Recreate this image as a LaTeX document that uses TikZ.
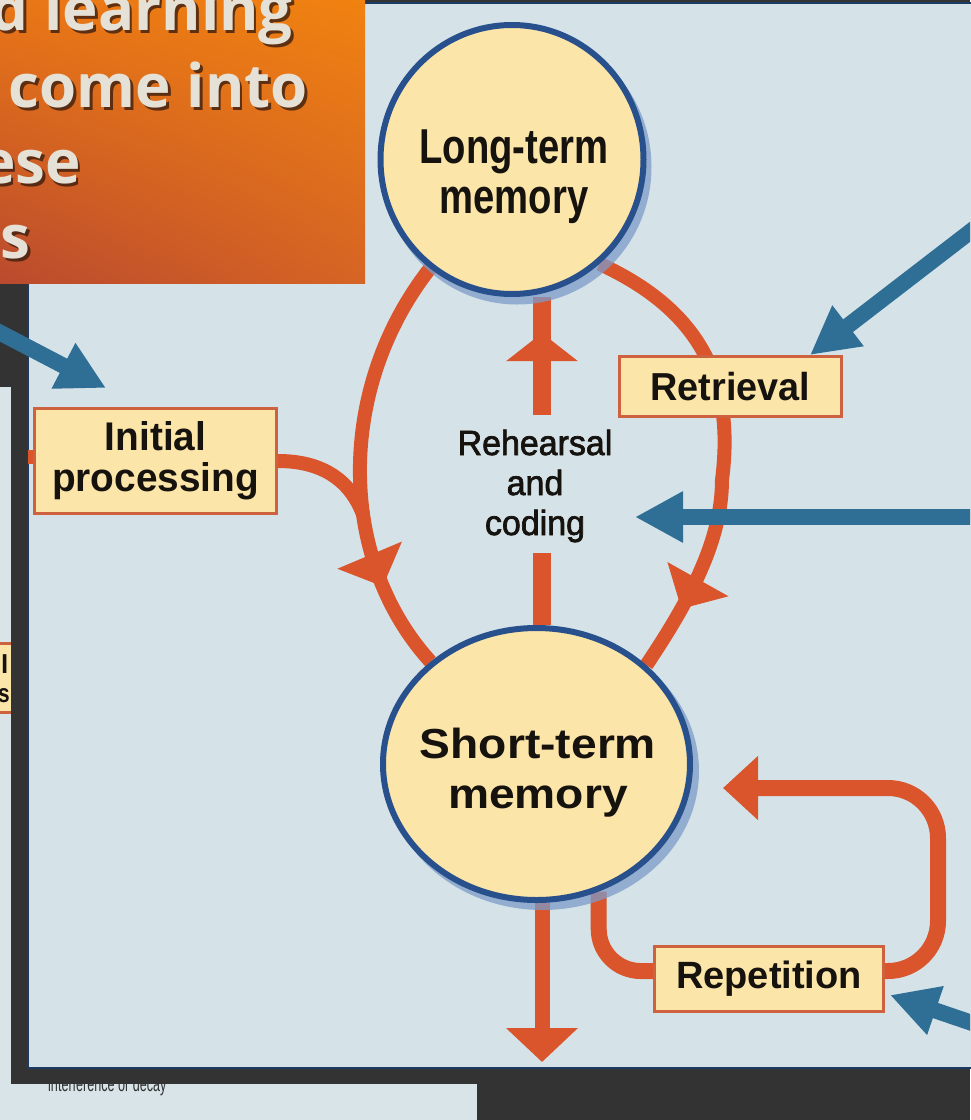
\documentclass[tikz,border=0pt]{standalone}
\usepackage{fontspec}
\usepackage{graphicx}
\usetikzlibrary{arrows.meta,shapes.geometric,decorations.markings,shadings}
\setmainfont{Liberation Sans}
\newfontfamily\titlefont{Open Sans}
\newfontfamily\labfont{Liberation Sans}
\newfontfamily\medfont[FakeBold=2]{Liberation Sans}
\newcommand{\sx}[2]{\scalebox{#1}[1]{#2}}

\definecolor{framegrey}{RGB}{51,51,51}
\definecolor{panel}{RGB}{213,227,232}
\definecolor{panelrim}{RGB}{28,58,98}
\definecolor{sheet}{RGB}{216,228,232}
\definecolor{flow}{RGB}{218,84,44}
\definecolor{pointer}{RGB}{47,111,150}
\definecolor{cream}{RGB}{251,229,168}
\definecolor{boxrim}{RGB}{206,98,62}
\definecolor{ring}{RGB}{40,80,140}
\definecolor{ringglow}{RGB}{125,155,200}
\definecolor{ink}{RGB}{22,18,14}
\definecolor{greyink}{RGB}{50,50,50}
\definecolor{titleink}{RGB}{230,225,214}
\definecolor{titleshade}{RGB}{60,30,15}
\definecolor{titleUL}{RGB}{233,118,22}
\definecolor{titleUR}{RGB}{240,130,16}
\definecolor{titleLL}{RGB}{186,74,46}
\definecolor{titleLR}{RGB}{214,100,36}

\pgfdeclarelayer{back}
\pgfdeclarelayer{under}
\pgfsetlayers{back,under,main}

\begin{document}
\begin{tikzpicture}[x=1pt,y=-1pt,
  memring/.style={ellipse, draw=ring, line width=6pt, fill=cream, inner sep=0pt},
  glow/.style={ellipse, fill=ringglow, opacity=0.75, inner sep=0pt},
  stagebox/.style={rectangle, draw=boxrim, line width=3pt, fill=cream, inner sep=0pt, text=ink, align=center},
  flowline/.style={draw=flow, color=flow, line width=14pt},
  pointerarrow/.style={draw=pointer, color=pointer, line width=16pt, -{Triangle[length=48pt,width=48pt]}},
  midhead/.style 2 args={postaction={decorate}, decoration={markings, mark=at position #1 with {\arrow{#2}}}},
  bigfont/.style={font=\labfont\bfseries\fontsize{49}{50}\selectfont, text=ink, inner sep=0pt},
  stfont/.style={font=\labfont\bfseries\fontsize{42}{50}\selectfont, text=ink, inner sep=0pt},
  rcfont/.style={font=\medfont\fontsize{35}{40}\selectfont, text=ink, inner sep=0pt},
  headline/.style={font=\titlefont\bfseries\fontsize{60}{76}\selectfont, text=titleink, inner sep=0pt, anchor=base east},
  headshadow/.style={font=\titlefont\bfseries\fontsize{60}{76}\selectfont, text=titleshade, opacity=0.8, inner sep=0pt, anchor=base east}
]
\useasboundingbox (0,0) rectangle (970,1120);
\clip (0,0) rectangle (970,1120);

% ---------- backdrop: slide, sheet underneath, frame, picture panel ----------
\begin{pgfonlayer}{back}
  \fill[framegrey] (0,0) rectangle (970,1120);
  \fill[sheet] (0,387) rectangle (477,1120);
  \node[stagebox, minimum width=80pt, minimum height=69pt] (oldbox) at (-20,677.5) {};
  \node[anchor=base west, font=\labfont\bfseries\fontsize{26}{26}\selectfont, text=ink, inner sep=0pt] (oldl) at (1,673) {l};
  \node[anchor=base west, font=\labfont\bfseries\fontsize{26}{26}\selectfont, text=ink, inner sep=0pt] (oldsi) at (-2,702) {\sx{0.8}{si}};
  \node[anchor=base west, font=\labfont\fontsize{21}{21}\selectfont, text=greyink, inner sep=0pt] (decay) at (48,1091) {\sx{0.6}{interference or decay}};
  \fill[framegrey] (11,0) rectangle (970,1084);
  \filldraw[fill=panel, draw=panelrim, line width=2.5pt] (28,3) rectangle (990,1068);
\end{pgfonlayer}

% ---------- memory stores ----------
\node[glow, minimum width=269pt, minimum height=275pt] (ltglow) at (517,167) {};
\node[memring, minimum width=263pt, minimum height=269pt] (lt) at (512,159.5) {};
\node[glow, minimum width=313pt, minimum height=278pt] (stglow) at (542.5,771) {};
\node[memring, minimum width=307pt, minimum height=272pt] (st) at (536.5,764) {};

\node[bigfont, anchor=base] (lt1) at (514,163) {\sx{0.78}{Long-term}};
\node[bigfont, anchor=base] (lt2) at (514,213) {\sx{0.78}{memory}};
\node[stfont, anchor=base] (st1) at (538,758) {\sx{1.1}{Short-term}};
\node[stfont, anchor=base] (st2) at (538,808) {\sx{1.1}{memory}};

% ---------- process boxes ----------
\node[stagebox, minimum width=242pt, minimum height=105pt,
      font=\labfont\bfseries\fontsize{40}{41}\selectfont] (ip) at (155.5,461)
      {\sx{0.97}{Initial}\\\sx{0.97}{processing}};
\node[stagebox, minimum width=222pt, minimum height=60pt,
      font=\labfont\bfseries\fontsize{39}{40}\selectfont] (ret) at (730.5,386.5)
      {\sx{0.97}{Retrieval}};
\node[stagebox, minimum width=229pt, minimum height=65pt,
      font=\labfont\bfseries\fontsize{38}{40}\selectfont] (rep) at (769,979)
      {Repetition};

\node[rcfont, anchor=base] (rc1) at (535,455) {\sx{0.97}{Rehearsal}};
\node[rcfont, anchor=base] (rc2) at (535,495) {\sx{0.97}{and}};
\node[rcfont, anchor=base] (rc3) at (535,535) {\sx{0.97}{coding}};

% ---------- flow of information ----------
\coordinate (ipin) at (28,457);
\coordinate (rcup) at (542,415);
\coordinate (rclo) at (542,553);
\coordinate (stout) at (542,1062);
\coordinate (reptip) at (723,788);

\begin{pgfonlayer}{under}
  % encoding arc on the left, joined by the initial processing stream
  \draw[flowline, midhead={0.79}{Triangle[length=34pt,width=68pt]}]
    (lt.233) .. controls (335,390) and (338,560) .. (st.136) coordinate[pos=0.6] (join);
  \draw[flowline] (ip.east) .. controls (322,461) and (350,480) .. (join);
  \draw[flowline] (ipin) -- ([yshift=4pt]ip.west);
  % retrieval arc on the right
  \draw[flowline, midhead={0.86}{Triangle[length=34pt,width=68pt]}]
    (lt.-50) .. controls (700,310) and (735,380) .. (722,480)
             .. controls (722,540) and (690,600) .. (st.42);
  % rehearsal and coding
  \draw[flowline, line width=18pt, midhead={82pt}{Triangle[length=28pt,width=70pt]}]
    (rcup) -- (lt.south -| rcup);
  \draw[flowline, line width=18pt] (rclo) -- (st.north -| rclo);
  % forgetting
  \draw[flowline, line width=15pt, -{Triangle[length=34pt,width=70pt]}]
    (st.south -| stout) -- (stout);
  % repetition loop
  \draw[flowline, line width=16pt, rounded corners=42pt]
    (st.-64) |- ([yshift=8pt]rep.west);
  \draw[flowline, line width=16pt, rounded corners=50pt, -{Triangle[length=35pt,width=62pt]}]
    ([yshift=8pt]rep.east) -| (938,788) -- (reptip);
\end{pgfonlayer}

% ---------- call-out pointers ----------
\coordinate (p1tail) at (-5,330);
\coordinate (p2tail) at (975,228);
\coordinate (p3tail) at (975,517);
\coordinate (p3tip) at (635,517);
\coordinate (p4tail) at (975,1024);
\draw[pointerarrow] (p1tail) -- ([shift={(73pt,19pt)}]ip.north west);
\draw[pointerarrow] (p2tail) -- ([xshift=-33pt]ret.north east);
\draw[pointerarrow] (p3tail) -- (p3tip);
\draw[pointerarrow] (p4tail) -- ([shift={(5pt,-16pt)}]rep.east);

% ---------- heading panel ----------
\begin{scope}
  \clip (0,0) rectangle (365,283);
  \shade[upper left=titleUL, upper right=titleUR, lower left=titleLL, lower right=titleLR]
    (0,0) rectangle (365,283);
  \node[headshadow] (h1s) at (295.5,33) {d learning};
  \node[headline]   (h1)  at (293,30)   {d learning};
  \node[headshadow] (h2s) at (310.5,110) {come into};
  \node[headline]   (h2)  at (308,107)  {come into};
  \node[headshadow] (h3s) at (83.5,186) {ese};
  \node[headline]   (h3)  at (81,183)   {ese};
  \node[headshadow] (h4s) at (33.5,261) {s};
  \node[headline]   (h4)  at (31,258)   {s};
\end{scope}
\end{tikzpicture}
\end{document}
